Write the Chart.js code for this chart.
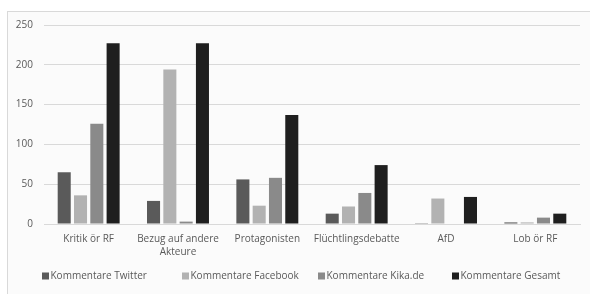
<!DOCTYPE html>
<html><head><meta charset="utf-8">
<script src="https://cdn.jsdelivr.net/npm/chart.js@4/dist/chart.umd.min.js"></script>
<style>
html,body{margin:0;padding:0;background:#fff;}
#frame{position:absolute;left:7px;top:11px;width:600px;height:300px;border:1px solid #d9d9d9;background:#fbfbfb;}
#wrap{position:absolute;left:0;top:0;width:590px;height:294px;}
</style></head><body>
<div id="frame"></div>
<div id="wrap"><canvas id="c" width="590" height="294"></canvas></div>
<script>
const categories = ["Kritik ör RF", ["Bezug auf andere", "Akteure"], "Protagonisten", "Flüchtlingsdebatte", "AfD", "Lob ör RF"];
const twitter  = [65, 29, 56, 13, 1, 2];
const facebook = [36, 194, 23, 22, 32, 2];
const kika     = [126, 3, 58, 39, 0, 8];
const gesamt   = [227, 227, 137, 74, 34, 13];
const yTicks = [0, 50, 100, 150, 200, 250];

const FONT = "'Open Sans', 'Liberation Sans', sans-serif";
Chart.defaults.font.family = FONT;
Chart.defaults.font.size = 10;
Chart.defaults.color = '#595959';

// custom single-row legend (drawn from the datasets)
const legendX = [42, 182, 318, 452];
const rowLegend = {
  id: 'rowLegend',
  afterDraw(chart) {
    const ctx = chart.ctx;
    ctx.save();
    ctx.font = "10px " + FONT;
    ctx.textBaseline = 'middle';
    const y = 276;
    chart.data.datasets.forEach((ds, i) => {
      const x = legendX[i];
      ctx.fillStyle = ds.backgroundColor;
      ctx.fillRect(x, y - 3.5, 7, 7);
      ctx.fillStyle = '#595959';
      ctx.fillText(ds.label, x + 8.5, y + 0.5);
    });
    ctx.restore();
  }
};

new Chart(document.getElementById('c'), {
  type: 'bar',
  data: {
    labels: categories,
    datasets: [
      {label: 'Kommentare Twitter', data: twitter, backgroundColor: '#5a5a5a'},
      {label: 'Kommentare Facebook', data: facebook, backgroundColor: '#b2b2b2'},
      {label: 'Kommentare Kika.de', data: kika, backgroundColor: '#8a8a8a'},
      {label: 'Kommentare Gesamt', data: gesamt, backgroundColor: '#1f1f1f'}
    ]
  },
  plugins: [rowLegend],
  options: {
    responsive: false,
    animation: false,
    devicePixelRatio: 1,
    layout: {padding: {left: 0, right: 10, top: 25, bottom: 0}},
    datasets: {bar: {categoryPercentage: 0.73, barPercentage: 0.8}},
    plugins: {
      legend: {display: false},
      tooltip: {enabled: false}
    },
    scales: {
      x: {
        grid: {display: false, drawTicks: false},
        border: {color: '#d9d9d9'},
        ticks: {padding: 9, maxRotation: 0, autoSkip: false, font: {size: 10, lineHeight: 1.3}},
        afterFit: s => { s.height = 70; }
      },
      y: {
        min: 0, max: 250,
        afterBuildTicks: s => { s.ticks = yTicks.map(v => ({value: v})); },
        grid: {color: '#d9d9d9', drawTicks: false},
        border: {display: false},
        ticks: {padding: 11, font: {size: 10}},
        afterFit: s => { s.width = 44; }
      }
    }
  }
});
</script>
</body></html>
